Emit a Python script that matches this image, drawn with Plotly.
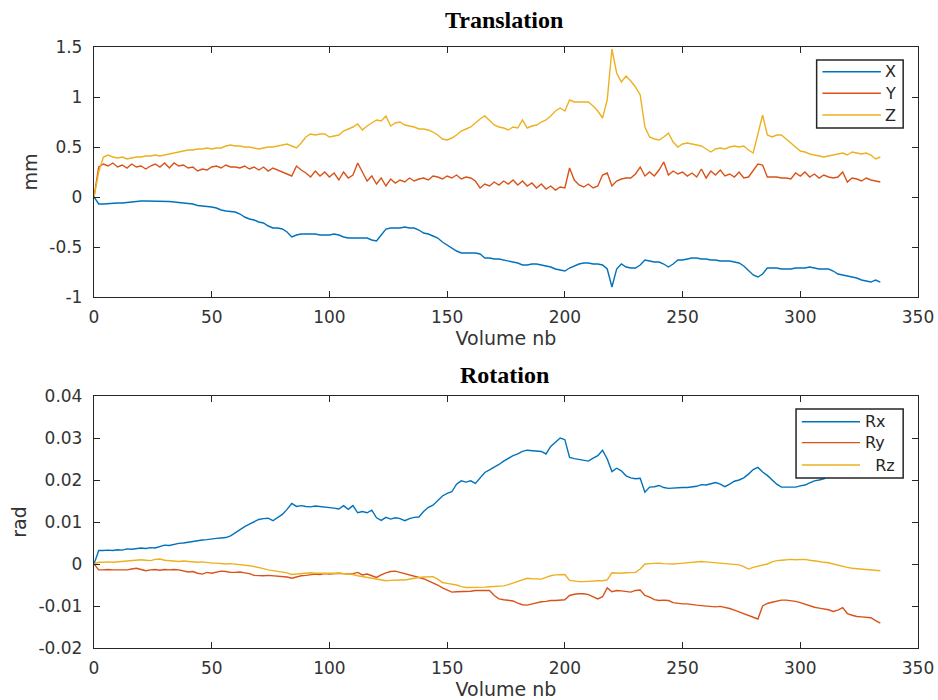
import plotly.graph_objects as go

# Volume index (every second volume)
volume = list(range(0, 336, 2))

# Translation (mm)
trans_x = [
    0.0, -0.07, -0.07, -0.065, -0.065, -0.06, -0.06, -0.055, -0.045, -0.045,
    -0.04, -0.04, -0.04, -0.04, -0.045, -0.04, -0.045, -0.05, -0.055, -0.06,
    -0.065, -0.07, -0.085, -0.09, -0.09, -0.10, -0.11, -0.13, -0.14, -0.145,
    -0.15, -0.17, -0.20, -0.22, -0.23, -0.25, -0.26, -0.29, -0.31, -0.31,
    -0.32, -0.35, -0.40, -0.38, -0.37, -0.37, -0.37, -0.37, -0.38, -0.38,
    -0.38, -0.37, -0.38, -0.40, -0.41, -0.41, -0.41, -0.41, -0.41, -0.43,
    -0.44, -0.38, -0.32, -0.31, -0.31, -0.31, -0.30, -0.31, -0.31, -0.33,
    -0.36, -0.37, -0.39, -0.41, -0.45, -0.48, -0.51, -0.54, -0.56, -0.56,
    -0.56, -0.56, -0.57, -0.61, -0.61, -0.62, -0.62, -0.63, -0.64, -0.65,
    -0.66, -0.68, -0.68, -0.67, -0.67, -0.68, -0.69, -0.70, -0.72, -0.73,
    -0.74, -0.71, -0.69, -0.67, -0.66, -0.66, -0.67, -0.67, -0.68, -0.72,
    -0.90, -0.72, -0.67, -0.70, -0.71, -0.71, -0.68, -0.63, -0.64, -0.65,
    -0.65, -0.67, -0.70, -0.67, -0.63, -0.63, -0.62, -0.61, -0.61, -0.62,
    -0.62, -0.63, -0.63, -0.64, -0.64, -0.64, -0.65, -0.66, -0.69, -0.74,
    -0.78, -0.80, -0.77, -0.71, -0.71, -0.71, -0.72, -0.72, -0.72, -0.71,
    -0.71, -0.71, -0.70, -0.71, -0.72, -0.72, -0.72, -0.74, -0.77, -0.78,
    -0.79, -0.80, -0.81, -0.83, -0.84, -0.85, -0.83, -0.85,
]
trans_y = [
    0.0, 0.30, 0.33, 0.31, 0.34, 0.30, 0.32, 0.29, 0.33, 0.30,
    0.31, 0.28, 0.31, 0.33, 0.30, 0.34, 0.29, 0.34, 0.31, 0.32,
    0.29, 0.30, 0.26, 0.28, 0.27, 0.30, 0.31, 0.29, 0.32, 0.30,
    0.30, 0.29, 0.31, 0.28, 0.30, 0.27, 0.30, 0.26, 0.29, 0.27,
    0.25, 0.23, 0.21, 0.31, 0.27, 0.24, 0.20, 0.26, 0.21, 0.25,
    0.20, 0.24, 0.17, 0.25, 0.19, 0.22, 0.34, 0.25, 0.16, 0.21,
    0.13, 0.19, 0.11, 0.18, 0.14, 0.17, 0.15, 0.19, 0.16, 0.18,
    0.19, 0.17, 0.21, 0.20, 0.18, 0.21, 0.19, 0.22, 0.18, 0.20,
    0.19, 0.16, 0.09, 0.13, 0.11, 0.15, 0.12, 0.16, 0.13, 0.17,
    0.12, 0.16, 0.11, 0.14, 0.09, 0.13, 0.08, 0.11, 0.07, 0.10,
    0.09, 0.29, 0.17, 0.12, 0.10, 0.13, 0.09, 0.11, 0.22, 0.24,
    0.11, 0.16, 0.18, 0.19, 0.19, 0.23, 0.30, 0.21, 0.25, 0.21,
    0.27, 0.35, 0.22, 0.26, 0.23, 0.25, 0.21, 0.24, 0.20, 0.28,
    0.19, 0.26, 0.22, 0.27, 0.21, 0.23, 0.20, 0.25, 0.19, 0.20,
    0.26, 0.33, 0.32, 0.20, 0.20, 0.20, 0.19, 0.19, 0.18, 0.24,
    0.21, 0.25, 0.20, 0.23, 0.19, 0.22, 0.20, 0.19, 0.20, 0.25,
    0.15, 0.19, 0.18, 0.16, 0.19, 0.17, 0.16, 0.15,
]
trans_z = [
    0.0, 0.25, 0.40, 0.42, 0.40, 0.39, 0.40, 0.38, 0.39, 0.40,
    0.40, 0.41, 0.41, 0.42, 0.41, 0.42, 0.43, 0.44, 0.45, 0.46,
    0.47, 0.47, 0.48, 0.48, 0.49, 0.48, 0.49, 0.49, 0.51, 0.52,
    0.51, 0.51, 0.50, 0.50, 0.49, 0.48, 0.49, 0.50, 0.50, 0.51,
    0.52, 0.53, 0.51, 0.49, 0.54, 0.60, 0.63, 0.62, 0.63, 0.63,
    0.60, 0.61, 0.62, 0.66, 0.68, 0.70, 0.73, 0.67, 0.71, 0.74,
    0.77, 0.76, 0.81, 0.71, 0.74, 0.75, 0.72, 0.71, 0.70, 0.68,
    0.68, 0.67, 0.65, 0.62, 0.58, 0.57, 0.59, 0.62, 0.66, 0.68,
    0.70, 0.74, 0.78, 0.81, 0.76, 0.72, 0.70, 0.69, 0.67, 0.70,
    0.69, 0.77, 0.69, 0.71, 0.72, 0.75, 0.77, 0.81, 0.86, 0.89,
    0.86, 0.97, 0.95, 0.95, 0.95, 0.95, 0.91, 0.86, 0.79, 0.97,
    1.48, 1.24, 1.15, 1.21, 1.16, 1.10, 1.02, 0.70, 0.60, 0.58,
    0.57, 0.60, 0.64, 0.55, 0.50, 0.53, 0.54, 0.53, 0.52, 0.51,
    0.48, 0.45, 0.48, 0.49, 0.48, 0.50, 0.51, 0.50, 0.51, 0.47,
    0.44, 0.62, 0.82, 0.62, 0.60, 0.62, 0.62, 0.58, 0.54, 0.50,
    0.46, 0.45, 0.43, 0.42, 0.41, 0.40, 0.41, 0.42, 0.43, 0.44,
    0.42, 0.45, 0.44, 0.43, 0.44, 0.42, 0.38, 0.40,
]

# Rotation (rad)
rot_x = [
    0.0, 0.0032, 0.0032, 0.0033, 0.0032, 0.0034, 0.0033, 0.0036, 0.0035, 0.0037,
    0.0038, 0.0037, 0.0039, 0.0038, 0.0042, 0.0045, 0.0044, 0.0047, 0.0049, 0.0050,
    0.0052, 0.0054, 0.0055, 0.0057, 0.0058, 0.0060, 0.0061, 0.0062, 0.0063, 0.0067,
    0.0075, 0.0083, 0.0089, 0.0095, 0.0100, 0.0106, 0.0108, 0.0109, 0.0103, 0.0110,
    0.0118, 0.0130, 0.0144, 0.0137, 0.0139, 0.0137, 0.0136, 0.0138, 0.0137, 0.0136,
    0.0135, 0.0133, 0.0131, 0.0139, 0.0130, 0.0139, 0.0122, 0.0125, 0.0122, 0.0128,
    0.0110, 0.0104, 0.0111, 0.0107, 0.0110, 0.0108, 0.0103, 0.0108, 0.0111, 0.0112,
    0.0125, 0.0135, 0.0140, 0.0150, 0.0162, 0.0168, 0.0172, 0.0190, 0.0198, 0.0195,
    0.0198, 0.0192, 0.0205, 0.0218, 0.0224, 0.0230, 0.0237, 0.0245, 0.0252, 0.0258,
    0.0262, 0.0268, 0.0271, 0.0270, 0.0269, 0.0268, 0.0262, 0.0280, 0.0290, 0.0300,
    0.0296, 0.0254, 0.0251, 0.0249, 0.0247, 0.0245, 0.0252, 0.0258, 0.0271, 0.0250,
    0.0220, 0.0228, 0.0222, 0.0210, 0.0205, 0.0203, 0.0204, 0.0171, 0.0183, 0.0184,
    0.0187, 0.0182, 0.0180, 0.0181, 0.0181, 0.0182, 0.0182, 0.0183, 0.0185, 0.0189,
    0.0188, 0.0191, 0.0194, 0.0190, 0.0184, 0.0190, 0.0197, 0.0200, 0.0205, 0.0214,
    0.0225, 0.0230, 0.0219, 0.0211, 0.0200, 0.0190, 0.0183, 0.0183, 0.0184, 0.0183,
    0.0186, 0.0188, 0.0193, 0.0198, 0.0200, 0.0203, 0.0210, 0.0214, 0.0216, 0.0218,
    0.0219, 0.0220, 0.0221, 0.0222, 0.0221, 0.0223, 0.0224, 0.0224,
]
rot_y = [
    0.0, -0.0014, -0.0014, -0.0013, -0.0014, -0.0014, -0.0013, -0.0014, -0.0012, -0.0010,
    -0.0013, -0.0016, -0.0014, -0.0013, -0.0015, -0.0013, -0.0014, -0.0013, -0.0014, -0.0016,
    -0.0019, -0.0018, -0.0022, -0.0024, -0.0020, -0.0022, -0.0019, -0.0017, -0.0018, -0.0020,
    -0.0020, -0.0019, -0.0021, -0.0023, -0.0027, -0.0028, -0.0028, -0.0027, -0.0028, -0.0028,
    -0.0029, -0.0031, -0.0034, -0.0031, -0.0028, -0.0027, -0.0026, -0.0024, -0.0025, -0.0023,
    -0.0024, -0.0023, -0.0022, -0.0023, -0.0024, -0.0023, -0.0020, -0.0026, -0.0024, -0.0028,
    -0.0032, -0.0026, -0.0021, -0.0018, -0.0017, -0.0020, -0.0023, -0.0025, -0.0028, -0.0032,
    -0.0035, -0.0040, -0.0045, -0.0050, -0.0057, -0.0062, -0.0067, -0.0066, -0.0066, -0.0065,
    -0.0065, -0.0063, -0.0063, -0.0062, -0.0063, -0.0075, -0.0083, -0.0085, -0.0086, -0.0088,
    -0.0093, -0.0097, -0.0098, -0.0095, -0.0092, -0.0090, -0.0089, -0.0087, -0.0087, -0.0086,
    -0.0085, -0.0075, -0.0072, -0.0071, -0.0071, -0.0073, -0.0078, -0.0083, -0.0078, -0.0057,
    -0.0066, -0.0063, -0.0064, -0.0066, -0.0067, -0.0063, -0.0062, -0.0075, -0.0079, -0.0085,
    -0.0087, -0.0086, -0.0087, -0.0092, -0.0094, -0.0095, -0.0095, -0.0097, -0.0098, -0.0099,
    -0.0100, -0.0101, -0.0102, -0.0101, -0.0103, -0.0106, -0.0110, -0.0114, -0.0118, -0.0122,
    -0.0126, -0.0131, -0.0100, -0.0094, -0.0091, -0.0089, -0.0086, -0.0086, -0.0087, -0.0089,
    -0.0092, -0.0096, -0.0100, -0.0103, -0.0105, -0.0107, -0.0109, -0.0113, -0.0110, -0.0104,
    -0.0118, -0.0122, -0.0125, -0.0126, -0.0127, -0.0128, -0.0135, -0.0141,
]
rot_z = [
    0.0, 0.0004, 0.0004, 0.0005, 0.0004, 0.0005, 0.0006, 0.0007, 0.0008, 0.0009,
    0.0010, 0.0009, 0.0008, 0.0011, 0.0012, 0.0009, 0.0008, 0.0007, 0.0006, 0.0007,
    0.0006, 0.0005, 0.0004, 0.0005, 0.0003, 0.0002, 0.0002, 0.0001, 0.0000, 0.0001,
    0.0000, -0.0001, -0.0003, -0.0004, -0.0006, -0.0008, -0.0011, -0.0014, -0.0016, -0.0017,
    -0.0019, -0.0021, -0.0025, -0.0024, -0.0022, -0.0022, -0.0021, -0.0022, -0.0022, -0.0021,
    -0.0022, -0.0022, -0.0022, -0.0023, -0.0024, -0.0025, -0.0028, -0.0030, -0.0032, -0.0034,
    -0.0036, -0.0038, -0.0040, -0.0039, -0.0038, -0.0038, -0.0038, -0.0036, -0.0033, -0.0032,
    -0.0031, -0.0030, -0.0030, -0.0036, -0.0044, -0.0046, -0.0048, -0.0050, -0.0054, -0.0056,
    -0.0056, -0.0056, -0.0056, -0.0055, -0.0054, -0.0053, -0.0053, -0.0052, -0.0049, -0.0045,
    -0.0041, -0.0037, -0.0034, -0.0035, -0.0036, -0.0036, -0.0032, -0.0028, -0.0026, -0.0025,
    -0.0025, -0.0039, -0.0041, -0.0042, -0.0042, -0.0041, -0.0040, -0.0040, -0.0040, -0.0038,
    -0.0021, -0.0022, -0.0022, -0.0021, -0.0020, -0.0020, -0.0012, 0.0000, 0.0001, 0.0002,
    0.0002, 0.0001, 0.0000, 0.0000, 0.0001, 0.0002, 0.0002, 0.0003, 0.0005, 0.0006,
    0.0005, 0.0004, 0.0004, 0.0003, 0.0002, 0.0001, 0.0000, -0.0002, -0.0006, -0.0012,
    -0.0008, -0.0005, -0.0003, 0.0000, 0.0005, 0.0008, 0.0009, 0.0010, 0.0011, 0.0010,
    0.0010, 0.0011, 0.0009, 0.0008, 0.0006, 0.0004, 0.0003, 0.0000, -0.0003, -0.0006,
    -0.0008, -0.0010, -0.0011, -0.0011, -0.0012, -0.0013, -0.0014, -0.0016,
]

trans_names = ["X", "Y", "Z"]
rot_names = ["Rx", "Ry", "\u00a0\u00a0Rz"]
colors = ["#0072BD", "#D95319", "#EDB120"]

x_ticks = [0, 50, 100, 150, 200, 250, 300, 350]
trans_ticks = [-1, -0.5, 0, 0.5, 1, 1.5]
trans_ticktext = ["-1", "-0.5", "0", "0.5", "1", "1.5"]
rot_ticks = [-0.02, -0.01, 0, 0.01, 0.02, 0.03, 0.04]
rot_ticktext = ["-0.02", "-0.01", "0", "0.01", "0.02", "0.03", "0.04"]

AXIS_COLOR = "#262626"
TICK_FONT = dict(family="DejaVu Sans", size=17, color="#333333")
LABEL_FONT = dict(family="DejaVu Sans", size=19, color="#333333")

fig = go.Figure()
for name, vals, col in zip(trans_names, [trans_x, trans_y, trans_z], colors):
    fig.add_trace(go.Scatter(x=volume, y=vals, name=name, mode="lines",
                             line=dict(color=col, width=1.4),
                             xaxis="x", yaxis="y", showlegend=False))
for name, vals, col in zip(rot_names, [rot_x, rot_y, rot_z], colors):
    fig.add_trace(go.Scatter(x=volume, y=vals, name=name, mode="lines",
                             line=dict(color=col, width=1.4),
                             xaxis="x2", yaxis="y2", showlegend=False))

common_axis = dict(showgrid=False, zeroline=False, showline=True, linecolor=AXIS_COLOR,
                   linewidth=1.3, mirror="ticks", ticks="inside", ticklen=6,
                   tickcolor=AXIS_COLOR, tickwidth=1.3, tickfont=TICK_FONT,
                   automargin=False)

fig.update_layout(
    width=938, height=700,
    margin=dict(l=94, r=20, t=47, b=52),
    paper_bgcolor="white", plot_bgcolor="white",
    xaxis=dict(common_axis, domain=[0, 1], anchor="y", range=[0, 350],
               tickvals=x_ticks, ticklabelstandoff=4,
               title=dict(text="Volume nb", font=LABEL_FONT, standoff=4)),
    yaxis=dict(common_axis, domain=[0.584, 1], anchor="x", range=[-1, 1.5],
               tickvals=trans_ticks, ticktext=trans_ticktext, ticklabelstandoff=7,
               title=dict(text="mm", font=LABEL_FONT, standoff=6)),
    xaxis2=dict(common_axis, domain=[0, 1], anchor="y2", range=[0, 350],
                tickvals=x_ticks, ticklabelstandoff=4,
                title=dict(text="Volume nb", font=LABEL_FONT, standoff=4)),
    yaxis2=dict(common_axis, domain=[0, 0.4193], anchor="x2", range=[-0.02, 0.04],
                tickvals=rot_ticks, ticktext=rot_ticktext, ticklabelstandoff=7,
                title=dict(text="rad", font=LABEL_FONT, standoff=6)),
)

# Panel titles
TITLE_FONT = dict(family="Liberation Serif", size=24, color="black")
for text, ypos in [("<b>Translation</b>", 1.045), ("<b>Rotation</b>", 0.4542)]:
    fig.add_annotation(text=text, x=0.4976, y=ypos, xref="paper", yref="paper",
                       xanchor="center", yanchor="middle", showarrow=False,
                       font=TITLE_FONT)


def add_legend(xref, yref, box, line_x, text_x, rows, names):
    fig.add_shape(type="rect", xref=xref, yref=yref,
                  x0=box[0], x1=box[1], y0=box[2], y1=box[3],
                  fillcolor="white", line=dict(color=AXIS_COLOR, width=1.5),
                  layer="above")
    for name, col, ry in zip(names, colors, rows):
        fig.add_shape(type="line", xref=xref, yref=yref,
                      x0=line_x[0], x1=line_x[1], y0=ry, y1=ry,
                      line=dict(color=col, width=1.4), layer="above")
        fig.add_annotation(text=name, xref=xref, yref=yref, x=text_x, y=ry,
                           xanchor="left", yanchor="middle", showarrow=False,
                           font=dict(family="DejaVu Sans", size=16, color="#262626"))


add_legend("x domain", "y domain", (0.877, 0.982, 0.676, 0.948),
           (0.884, 0.955), 0.958, (0.901, 0.815, 0.728), trans_names)
add_legend("x2 domain", "y2 domain", (0.852, 0.982, 0.675, 0.948),
           (0.859, 0.9296), 0.933, (0.898, 0.815, 0.726), rot_names)

fig.write_html("out.html")
